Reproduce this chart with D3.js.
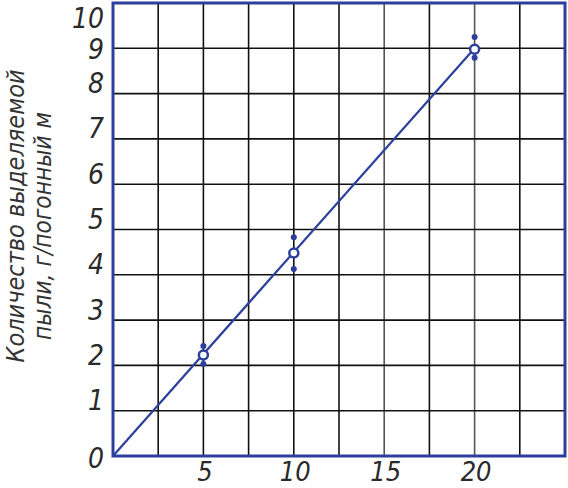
<!DOCTYPE html>
<html>
<head>
<meta charset="utf-8">
<script src="https://cdn.jsdelivr.net/npm/d3@7"></script>
<style>
  html, body { margin: 0; padding: 0; background: #fff; }
  svg { display: block; }
</style>
</head>
<body>
<div id="chart"></div>
<script>
'use strict';

// --- Data
var xLabels = [5, 10, 15, 20];
var yLabels = [0, 1, 2, 3, 4, 5, 6, 7, 8, 9, 10];
var lengths = [5, 10, 20];          // x of measured points
var meanDust = [2.23, 4.48, 8.98];  // open circles
var maxDust = [2.43, 4.83, 9.25];   // upper dots
var minDust = [2.03, 4.13, 8.79];   // lower dots
var fitX = [0, 20];
var fitY = [0, 9];
var titleLines = ['Количество выделяемой', 'пыли, г/погонный м'];

var width = 568;
var height = 488;
var blue = '#2d3f9c';

var svg = d3.select('#chart')
  .append('svg')
  .attr('width', width)
  .attr('height', height);

var x = d3.scaleLinear().domain([0, 25]).range([113, 565]);
var y = d3.scaleLinear().domain([0, 10]).range([456, 3]);

// --- Grid
svg.append('g')
  .selectAll('line')
  .data(d3.range(2.5, 25, 2.5))
  .enter().append('line')
  .attr('x1', function(d){ return x(d); })
  .attr('x2', function(d){ return x(d); })
  .attr('y1', y(0))
  .attr('y2', y(10))
  .attr('stroke', function(d){ return (d === 15 || d === 20) ? '#555' : '#111'; })
  .attr('stroke-width', 1.6);

svg.append('g')
  .selectAll('line')
  .data(d3.range(1, 10))
  .enter().append('line')
  .attr('x1', x(0))
  .attr('x2', x(25))
  .attr('y1', function(d){ return y(d); })
  .attr('y2', function(d){ return y(d); })
  .attr('stroke', '#111')
  .attr('stroke-width', 1.6);

// --- Frame
svg.append('rect')
  .attr('x', x(0))
  .attr('y', y(10))
  .attr('width', x(25) - x(0))
  .attr('height', y(0) - y(10))
  .attr('fill', 'none')
  .attr('stroke', blue)
  .attr('stroke-width', 3);

// --- Tick labels through axes
var labelFont = '"Liberation Sans Narrow", "DejaVu Sans Condensed", sans-serif';

var xAxis = svg.append('g')
  .attr('transform', 'translate(0,' + y(0) + ')')
  .call(d3.axisBottom(x).tickValues(xLabels).tickSize(0).tickPadding(0));
xAxis.select('.domain').remove();
xAxis.selectAll('text')
  .attr('y', 0)
  .attr('dy', 25)
  .attr('dx', 1)
  .style('font-family', labelFont)
  .style('font-style', 'italic')
  .style('font-size', '27px')
  .attr('fill', '#2a2a2a');

// labels sit a little above their grid line, top and bottom ones differ
var yShift = { 0: 11, 9: 10, 10: 24 };
var yAxis = svg.append('g')
  .attr('transform', 'translate(' + x(0) + ',0)')
  .call(d3.axisLeft(y).tickValues(yLabels).tickSize(0).tickPadding(9).tickFormat(d3.format('d')));
yAxis.select('.domain').remove();
yAxis.selectAll('text')
  .attr('dy', function(d){ return yShift[d] !== undefined ? yShift[d] : -1; })
  .style('font-family', labelFont)
  .style('font-style', 'italic')
  .style('font-size', '28px')
  .attr('fill', '#2a2a2a');

// --- Axis title
var title = svg.append('g')
  .attr('transform', 'rotate(-90)')
  .style('font-family', labelFont)
  .style('font-style', 'italic')
  .style('font-size', '25px')
  .attr('fill', '#333');

title.append('text')
  .attr('x', -216)
  .attr('y', 24)
  .attr('text-anchor', 'middle')
  .attr('textLength', 293)
  .attr('lengthAdjust', 'spacingAndGlyphs')
  .text(titleLines[0]);

title.append('text')
  .attr('x', -226)
  .attr('y', 51)
  .attr('text-anchor', 'middle')
  .attr('textLength', 228)
  .attr('lengthAdjust', 'spacingAndGlyphs')
  .text(titleLines[1]);

// --- Fitted line
var line = d3.line()
  .x(function(d){ return x(d[0]); })
  .y(function(d){ return y(d[1]); });

svg.append('path')
  .datum(d3.zip(fitX, fitY))
  .attr('d', line)
  .attr('fill', 'none')
  .attr('stroke', blue)
  .attr('stroke-width', 2.2);

// --- Measured points
var pts = lengths.map(function(l, i){
  return { x: l, mean: meanDust[i], hi: maxDust[i], lo: minDust[i] };
});

var marks = svg.append('g').selectAll('g').data(pts).enter().append('g');

marks.append('circle')
  .attr('cx', function(d){ return x(d.x); })
  .attr('cy', function(d){ return y(d.hi); })
  .attr('r', 3)
  .attr('fill', blue);

marks.append('circle')
  .attr('cx', function(d){ return x(d.x); })
  .attr('cy', function(d){ return y(d.lo); })
  .attr('r', 3)
  .attr('fill', blue);

marks.append('circle')
  .attr('cx', function(d){ return x(d.x); })
  .attr('cy', function(d){ return y(d.mean); })
  .attr('r', 4.5)
  .attr('fill', '#fff')
  .attr('stroke', blue)
  .attr('stroke-width', 2.5);
</script>
</body>
</html>
